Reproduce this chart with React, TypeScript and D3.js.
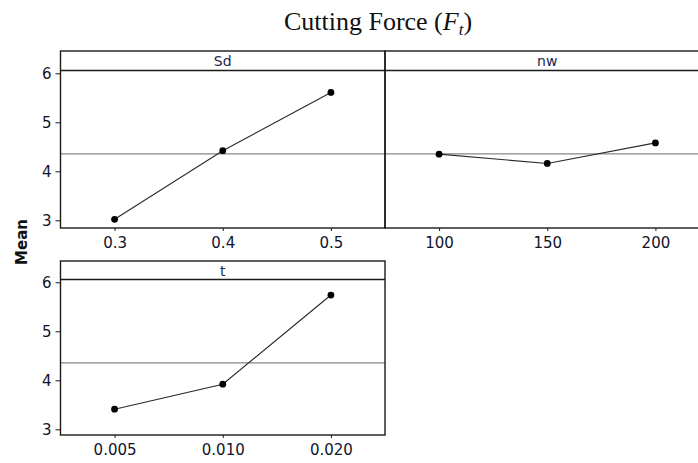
import * as d3 from "d3";
import React, { useEffect, useRef } from "react";

// factor levels and level means
const sdLevels = ["0.3", "0.4", "0.5"];
const sdMeans = [3.02, 4.42, 5.61];

const nwLevels = ["100", "150", "200"];
const nwMeans = [4.35, 4.16, 4.58];

const tLevels = ["0.005", "0.010", "0.020"];
const tMeans = [3.41, 3.92, 5.74];

const grandMean = 4.355;
const yTicks = [3, 4, 5, 6];

const panels = [
  { name: "Sd", levels: sdLevels, means: sdMeans, col: 0, row: 0 },
  { name: "nw", levels: nwLevels, means: nwMeans, col: 1, row: 0 },
  { name: "t", levels: tLevels, means: tMeans, col: 0, row: 1 },
];

const WIDTH = 698;
const HEIGHT = 463;

export default function App() {
  const svgRef = useRef<SVGSVGElement>(null);

  useEffect(() => {
    const svg = d3.select(svgRef.current);
    svg.selectAll("*").remove();

    // frame
    const left = 60.5;
    const panelW = 324.5;
    const rows = [
      { top: 51, strip: 70.5, bottom: 228 },
      { top: 261, strip: 279.5, bottom: 435 },
    ];
    const tickFont = "DejaVu Sans, Verdana, sans-serif";
    const tickColor = "#10142a";

    // title
    const title = svg
      .append("text")
      .attr("x", 378)
      .attr("y", 30)
      .attr("text-anchor", "middle")
      .style("font-family", "Liberation Serif, Times New Roman, serif")
      .style("font-size", "26px")
      .attr("fill", "#111");
    title.append("tspan").text("Cutting Force (");
    title.append("tspan").style("font-style", "italic").text("F");
    title
      .append("tspan")
      .style("font-style", "italic")
      .style("font-size", "17px")
      .attr("dy", 5)
      .text("t");
    title.append("tspan").attr("dy", -5).text(")");

    // y axis label
    svg
      .append("text")
      .attr("transform", `translate(22, 242) rotate(-90)`)
      .attr("text-anchor", "middle")
      .attr("dominant-baseline", "central")
      .style("font-family", tickFont)
      .style("font-size", "15px")
      .style("font-weight", "bold")
      .attr("fill", "#111")
      .text("Mean");

    panels.forEach((p) => {
      const r = rows[p.row];
      const x0 = left + p.col * panelW;
      const x1 = x0 + panelW;

      const xScale = d3
        .scalePoint<string>()
        .domain(p.levels)
        .range([x0, x1])
        .padding(0.5);

      const yScale = d3
        .scaleLinear()
        .domain([6 - (r.bottom - r.strip - 2.8) / 49, 6.057])
        .range([r.bottom, r.strip]);

      const g = svg.append("g");

      // mean reference line
      g.append("line")
        .attr("x1", x0)
        .attr("x2", x1)
        .attr("y1", yScale(grandMean))
        .attr("y2", yScale(grandMean))
        .attr("stroke", "#6a6a6a")
        .attr("stroke-width", 1);

      // level means line + points
      const pts = p.levels.map((l, i) => [xScale(l) as number, yScale(p.means[i])] as [number, number]);
      g.append("path")
        .attr("d", d3.line()(pts))
        .attr("fill", "none")
        .attr("stroke", "#2a2a2a")
        .attr("stroke-width", 1.1);
      g.selectAll("circle.pt")
        .data(pts)
        .join("circle")
        .attr("class", "pt")
        .attr("cx", (d) => d[0])
        .attr("cy", (d) => d[1])
        .attr("r", 3.4)
        .attr("fill", "#000");

      // panel border and strip
      g.append("rect")
        .attr("x", x0)
        .attr("y", r.top)
        .attr("width", panelW)
        .attr("height", r.bottom - r.top)
        .attr("fill", "none")
        .attr("stroke", "#1a1a1a")
        .attr("stroke-width", 1.4);
      g.append("line")
        .attr("x1", x0)
        .attr("x2", x1)
        .attr("y1", r.strip)
        .attr("y2", r.strip)
        .attr("stroke", "#1a1a1a")
        .attr("stroke-width", 1.4);
      g.append("text")
        .attr("x", (x0 + x1) / 2)
        .attr("y", (r.top + r.strip) / 2 + 0.5)
        .attr("text-anchor", "middle")
        .attr("dominant-baseline", "central")
        .style("font-family", tickFont)
        .style("font-size", "14px")
        .attr("fill", "#1c2650")
        .text(p.name);

      // x axis
      const xAxisG = g
        .append("g")
        .attr("transform", `translate(0, ${r.bottom})`)
        .call(d3.axisBottom(xScale).tickSize(3).tickPadding(6));
      xAxisG.select(".domain").remove();
      xAxisG.selectAll("line").attr("stroke", "#1a1a1a");
      xAxisG
        .selectAll("text")
        .style("font-family", tickFont)
        .style("font-size", "15px")
        .attr("fill", tickColor);

      // y axis only on the left column
      if (p.col === 0) {
        const yAxisG = g
          .append("g")
          .attr("transform", `translate(${x0}, 0)`)
          .call(
            d3
              .axisLeft(yScale)
              .tickValues(yTicks)
              .tickFormat(d3.format("d"))
              .tickSize(5)
              .tickPadding(4)
          );
        yAxisG.select(".domain").remove();
        yAxisG.selectAll("line").attr("stroke", "#1a1a1a");
        yAxisG
          .selectAll("text")
          .style("font-family", tickFont)
          .style("font-size", "15px")
          .attr("fill", tickColor);
      }
    });
  }, []);

  return (
    <svg
      ref={svgRef}
      width={WIDTH}
      height={HEIGHT}
      style={{ position: "absolute", left: 0, top: 0, background: "#fff" }}
    ></svg>
  );
}
